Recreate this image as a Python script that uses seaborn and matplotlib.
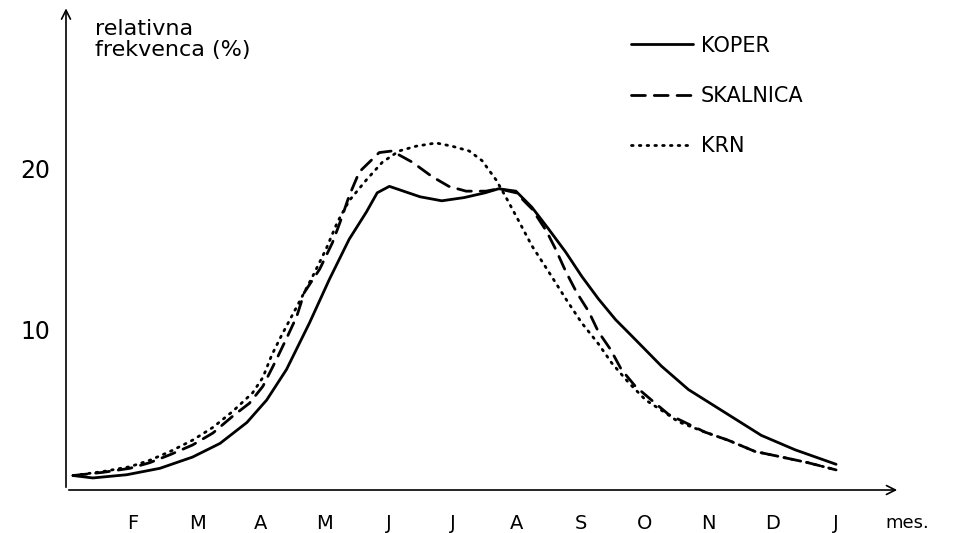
import matplotlib
matplotlib.use("Agg")
import matplotlib.pyplot as plt
import seaborn as sns
import pandas as pd

# mesec: 0 = januar, 12 = januar naslednjega leta
koper_mes = [0.06, 0.37, 0.90, 1.42, 1.93, 2.36, 2.78, 3.09, 3.40, 3.76, 4.07, 4.38, 4.65, 4.82,
             5.01, 5.49, 5.83, 6.18, 6.51, 6.72, 6.99, 7.24, 7.50, 7.77, 8.02, 8.28, 8.55, 8.80,
             9.27, 9.69, 10.31, 10.83, 11.36, 12.00]
koper_frek = [0.9, 0.75, 0.95, 1.35, 2.05, 2.9, 4.2, 5.6, 7.5, 10.4, 13.1, 15.6, 17.3, 18.5,
              18.9, 18.25, 18.0, 18.2, 18.5, 18.75, 18.6, 17.6, 16.25, 14.8, 13.3, 11.9, 10.6, 9.6,
              7.7, 6.25, 4.7, 3.4, 2.5, 1.6]

skalnica_mes = [0.06, 0.53, 0.95, 1.26, 1.58, 1.93, 2.25, 2.56, 2.82, 3.03, 3.24, 3.42, 3.56, 3.68,
                3.92, 4.12, 4.26, 4.38, 4.54, 4.85, 5.05, 5.37, 5.68, 5.94, 6.21, 6.52, 6.72, 6.99,
                7.24, 7.47, 7.61, 7.77, 7.94, 8.13, 8.28, 8.47, 8.64, 8.86, 9.17, 9.38, 9.69, 9.95,
                10.31, 10.73, 11.09, 11.56, 12.00]
skalnica_frek = [0.9, 1.1, 1.35, 1.7, 2.2, 2.8, 3.55, 4.6, 5.4, 6.45, 8.1, 9.6, 10.8, 12.3,
                 13.75, 15.4, 16.9, 18.3, 19.8, 21.0, 21.1, 20.4, 19.5, 18.9, 18.6, 18.6, 18.75, 18.5,
                 17.5, 16.1, 15.0, 13.6, 12.3, 11.1, 9.85, 8.75, 7.5, 6.45, 5.4, 4.7, 4.1, 3.6,
                 3.1, 2.4, 2.1, 1.7, 1.25]

krn_mes = [0.06, 0.53, 0.95, 1.26, 1.58, 1.93, 2.25, 2.56, 2.87, 3.03, 3.17, 3.32, 3.48, 3.60,
           3.81, 4.02, 4.20, 4.38, 4.65, 4.90, 5.16, 5.43, 5.74, 5.99, 6.26, 6.46, 6.68, 6.83,
           7.00, 7.24, 7.50, 7.77, 8.02, 8.28, 8.49, 8.75, 9.02, 9.33, 9.53, 9.95, 10.31, 10.73,
           11.09, 11.56, 12.00]
krn_frek = [0.9, 1.15, 1.45, 1.85, 2.4, 3.1, 3.9, 4.9, 6.05, 7.0, 8.4, 9.6, 10.8, 11.7,
            13.3, 15.0, 16.7, 18.0, 19.3, 20.4, 21.1, 21.4, 21.6, 21.4, 21.1, 20.5, 19.3, 18.25,
            17.0, 15.2, 13.6, 11.9, 10.4, 9.1, 7.9, 6.7, 5.6, 4.8, 4.25, 3.6, 3.1, 2.4,
            2.1, 1.7, 1.25]

meseci = ["F", "M", "A", "M", "J", "J", "A", "S", "O", "N", "D", "J"]
meseci_pos = list(range(1, 13))
y_oznake = [10, 20]
y_crtice = list(range(2, 26, 2))

sns.set_style("white")
plt.rcParams["font.family"] = ["DejaVu Sans"]
plt.rcParams["text.color"] = "black"
plt.rcParams["xtick.color"] = "black"
plt.rcParams["ytick.color"] = "black"

fig = plt.figure(figsize=(9.61, 5.33), dpi=100)
ax = fig.add_axes([66 / 961, 43 / 533, 834 / 961, 482 / 533])

postaje = [
    ("KOPER", koper_mes, koper_frek, "-"),
    ("SKALNICA", skalnica_mes, skalnica_frek, (0, (5, 3.2))),
    ("KRN", krn_mes, krn_frek, (0, (0.6, 2.2))),
]
for ime, x, y, ls in postaje:
    df = pd.DataFrame({"mes": x, "frek": y})
    sns.lineplot(data=df, x="mes", y="frek", ax=ax, color="black", lw=2.0,
                 linestyle=ls, label=ime, sort=False, estimator=None)
for ln in ax.get_lines():
    ln.set_dash_capstyle("round")
    ln.set_solid_capstyle("round")
    ln.set_solid_joinstyle("round")
    ln.set_dash_joinstyle("round")

ax.set_xlim(-0.05, 13.0)
ax.set_ylim(0, 30)
for s in ax.spines.values():
    s.set_visible(False)

# osi s puscicami
ax.annotate("", xy=(1, 0), xytext=(0, 0), xycoords="axes fraction",
            arrowprops=dict(arrowstyle="->", lw=1.2, color="black", mutation_scale=16))
ax.annotate("", xy=(0, 1.005), xytext=(0, 0), xycoords="axes fraction",
            arrowprops=dict(arrowstyle="->", lw=1.2, color="black", mutation_scale=16))

ax.set_xticks(meseci_pos)
ax.set_xticklabels(meseci)
ax.set_yticks(y_oznake)
ax.set_yticks(y_crtice, minor=True)
ax.tick_params(axis="x", direction="out", length=6, width=1.2, pad=11, labelsize=14)
ax.tick_params(axis="y", which="both", direction="out", length=6, width=1.2, pad=5, labelsize=17)
ax.tick_params(axis="y", which="minor", labelleft=False)
ax.set_xlabel("")
ax.set_ylabel("")

ax.text(0.035, 0.977, "relativna\nfrekvenca (%)", transform=ax.transAxes,
        fontsize=16, va="top", ha="left", linespacing=1.05)
ax.text(0.982, -0.068, "mes.", transform=ax.transAxes, fontsize=13, va="center", ha="left")

ax.legend(loc="upper left", bbox_to_anchor=(612 / 961, 1 - 17 / 533),
          bbox_transform=fig.transFigure, frameon=False, fontsize=15,
          handlelength=3.0, handletextpad=0.35, labelspacing=1.45)

fig.savefig("out.png", dpi=100)
